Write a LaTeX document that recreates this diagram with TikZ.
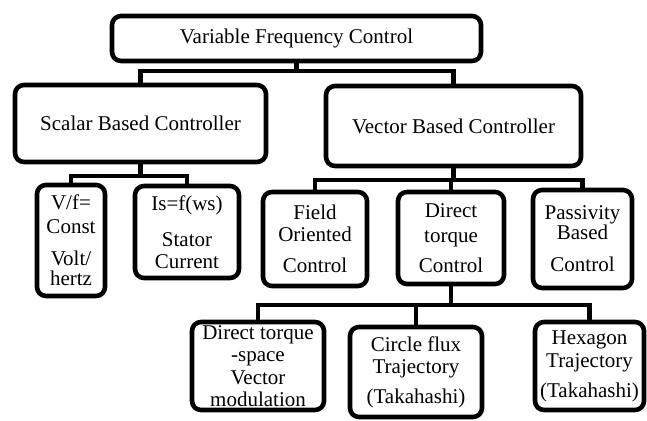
\documentclass[tikz,border=0pt]{standalone}
\usepackage{fontspec}
\setmainfont{Liberation Serif}
\begin{document}
\begin{tikzpicture}[x=0.5pt, y=-0.5pt,
    box/.style={draw, line width=2.3pt, rounded corners=4.5pt, align=center,
        inner sep=0pt, font=\fontsize{10.5}{11}\selectfont},
    link/.style={line width=2.2pt}]
    \useasboundingbox (0,0) rectangle (647,421);

    % Top level
    \node[box, minimum width=184.5pt, minimum height=22.5pt] (vfc) at (296.5,38.5) {Variable Frequency Control};

    % Controller types
    \node[box, minimum width=125.5pt, minimum height=38.5pt] (scalar) at (140.5,123.5) {Scalar Based Controller};
    \node[box, minimum width=127.5pt, minimum height=40pt] (vector) at (453.5,126) {Vector Based Controller};

    % Scalar methods
    \node[box, minimum width=34pt, minimum height=55.5pt] (vf) at (71,240.5) {V/f=\\[1pt]Const\\[5pt]Volt/\\[-1pt]hertz};
    \node[box, minimum width=52pt, minimum height=46pt] (is) at (187,232) {Is=f(ws)\\[7pt]Stator\\Current};

    % Vector methods
    \node[box, minimum width=52pt, minimum height=47pt] (foc) at (315,239) {Field\\Oriented\\[4.5pt]Control};
    \node[box, minimum width=53pt, minimum height=46pt] (dtc) at (451,238) {Direct\\[1.5pt]torque\\[4pt]Control};
    \node[box, minimum width=49.5pt, minimum height=49pt] (pbc) at (582.5,239) {Passivity\\[-1pt]Based\\[5pt]Control};

    % Direct torque variants
    \node[box, minimum width=66pt, minimum height=44pt] (svm) at (258,366) {Direct torque\\-space\\[0.5pt]Vector\\modulation};
    \node[box, minimum width=66pt, minimum height=45pt] (cft) at (416,372) {Circle flux\\Trajectory\\[4pt](Takahashi)};
    \node[box, minimum width=54.5pt, minimum height=44pt] (hex) at (589.5,366) {Hexagon\\[0.5pt]Trajectory\\[4pt](Takahashi)};

    % Connectors
    \draw[link] (vfc.south) -- ++(0,8) coordinate (j1);
    \foreach \child in {scalar, vector}
        \draw[link] (j1) -| (\child.north);

    \draw[link] (scalar.south) -- ++(0,12) coordinate (j2);
    \foreach \child in {vf, is}
        \draw[link] (j2) -| (\child.north);

    \draw[link] (vector.south) -- ++(0,12) coordinate (j3);
    \foreach \child in {foc, dtc, pbc}
        \draw[link] (j3) -| (\child.north);

    \draw[link] (dtc.south) -- ++(0,19) coordinate (j4);
    \foreach \child in {svm, cft, hex}
        \draw[link] (j4) -| (\child.north);
\end{tikzpicture}
\end{document}
